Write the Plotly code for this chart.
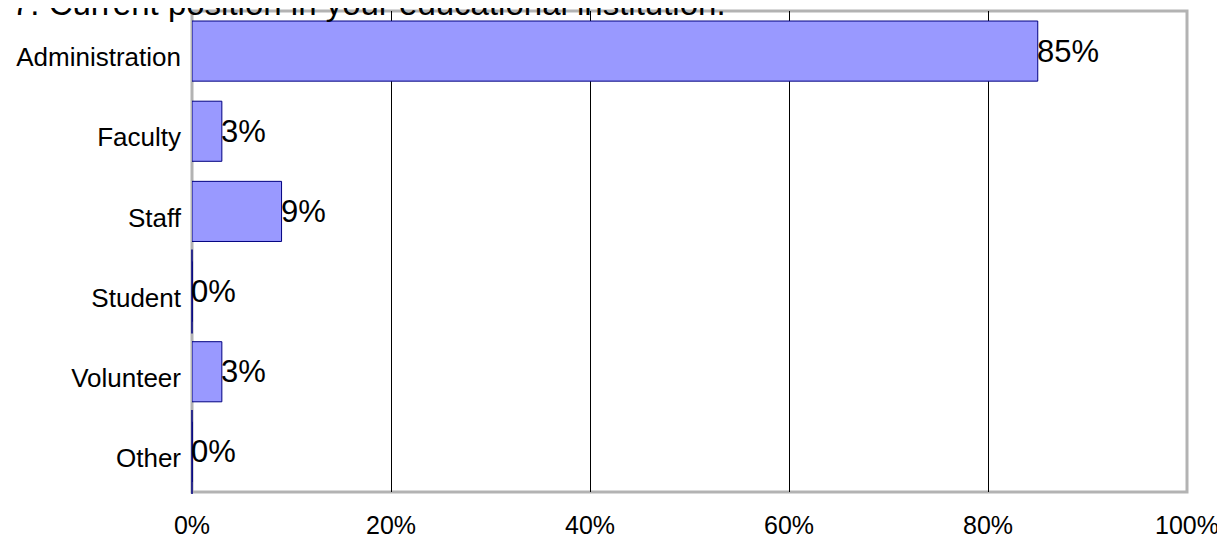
import plotly.graph_objects as go

categories = ["Administration", "Faculty", "Staff", "Student", "Volunteer", "Other"]
values = [85, 3, 9, 0, 3, 0]
tick_vals = [0, 20, 40, 60, 80, 100]
tick_text = ["0%", "20%", "40%", "60%", "80%", "100%"]
title_text = "7. Current position in your educational institution."

FONT = "Liberation Sans"
L, T = 184, 3
PW, PH = 995, 481

fig = go.Figure()
fig.add_trace(go.Bar(
    x=values,
    y=categories,
    orientation="h",
    marker=dict(color="#9999ff", line=dict(color="#000080", width=1)),
    hoverinfo="skip",
))
# zero-valued bars still show a thin outline in the reference
zero_cats = [c for c, v in zip(categories, values) if v == 0]
zero_vals = [v for v in values if v == 0]
fig.add_trace(go.Scatter(
    x=zero_vals, y=zero_cats, mode="markers",
    marker=dict(symbol="line-ns", size=60, line=dict(color="#000080", width=1.5)),
    cliponaxis=False, hoverinfo="skip",
))

annotations = [dict(
    x=v, y=c, xref="x", yref="y", text=f"{v}%", showarrow=False,
    xanchor="left", yanchor="middle", xshift=-3,
    font=dict(family=FONT, size=31, color="#000000"),
) for c, v in zip(categories, values)]
annotations.append(dict(
    text=title_text, xref="paper", yref="paper", x=(2 - L) / PW, y=1,
    xanchor="left", yanchor="middle", yshift=8, showarrow=False,
    font=dict(family=FONT, size=33, color="#000000"),
))

fig.update_layout(
    width=1225,
    height=538,
    margin=dict(l=L, r=1225 - L - PW, t=T, b=538 - T - PH, autoexpand=False),
    paper_bgcolor="white",
    plot_bgcolor="white",
    showlegend=False,
    bargap=0.25,
    font=dict(family=FONT, size=25, color="#000000"),
    xaxis=dict(
        range=[0, 100],
        tickvals=tick_vals,
        ticktext=tick_text,
        showgrid=True,
        gridcolor="#000000",
        gridwidth=1,
        zeroline=False,
        showline=False,
        ticks="",
        ticklabelstandoff=16,
        automargin=False,
        tickfont=dict(family=FONT, size=25),
    ),
    yaxis=dict(
        type="category",
        categoryorder="array",
        categoryarray=categories,
        range=[len(categories) - 0.5, -0.5],
        autorange=False,
        showgrid=False,
        zeroline=False,
        showline=False,
        ticks="",
        ticklabelstandoff=10,
        ticklabelshift=-6,
        automargin=False,
        tickfont=dict(family=FONT, size=26),
    ),
    shapes=[dict(
        type="rect", xref="paper", yref="paper", x0=0, x1=1, y0=0, y1=1,
        line=dict(color="#b3b3b3", width=3), layer="below",
    )],
    annotations=annotations,
)

fig.write_html("out.html")
